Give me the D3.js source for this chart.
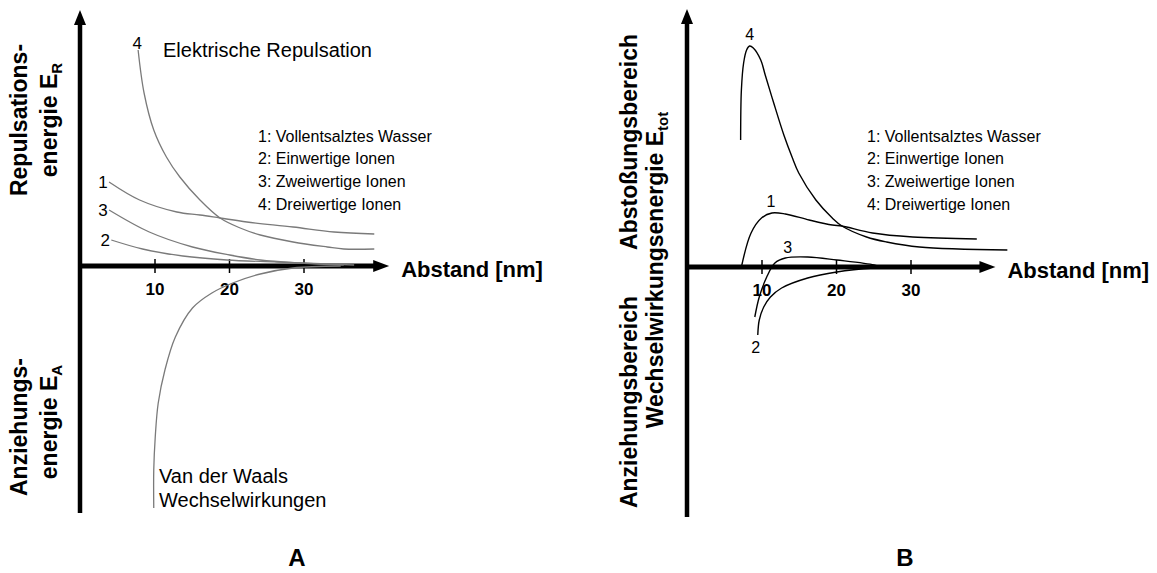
<!DOCTYPE html>
<html>
<head>
<meta charset="utf-8">
<script src="https://cdn.jsdelivr.net/npm/d3@7"></script>
<style>
  body { margin: 0; background: #fff; }
  text { font-family: "Liberation Sans", Arial, sans-serif; }
</style>
</head>
<body>
<script>
const xTicks = [10, 20, 30];
const legendItems = ["1: Vollentsalztes Wasser", "2: Einwertige Ionen", "3: Zweiwertige Ionen", "4: Dreiwertige Ionen"];

// Panel A - Repulsion
const repA1 = [[3.9, 8.4], [8.0, 6.6], [13.0, 5.4], [16.1, 5.1], [18.8, 4.8], [22.4, 4.4], [28.6, 3.9], [34.1, 3.4], [39.5, 3.2]];
const repA2 = [[4.2, 2.6], [8.4, 1.7], [13.8, 1.0], [19.7, 0.6], [26.5, 0.4], [33.2, 0.2], [36.8, 0.1]];
const repA3 = [[3.9, 5.6], [9.3, 3.4], [15.1, 1.9], [20.1, 1.1], [24.2, 0.6], [29.6, 0.3], [35.4, 0.1]];
const repA4 = [[7.8, 21.6], [8.6, 17.3], [9.9, 13.6], [11.6, 10.9], [13.4, 8.9], [16.1, 6.6], [18.8, 4.8], [21.5, 3.8], [24.2, 3.1], [28.6, 2.4], [33.2, 1.9], [35.4, 1.7], [39.5, 1.7]];
const vanDerWaals = [[9.9, -24.2], [9.9, -20.4], [10.1, -17.1], [10.5, -13.7], [11.4, -10.4], [12.8, -7.1], [15.1, -4.2], [17.7, -2.7], [20.5, -1.7], [24.2, -0.8], [28.6, -0.2], [35.0, 0]];

// Panel B - Gesamtenergie
const totB1 = [[7.3, 0], [8.6, 3.4], [10.0, 4.9], [11.4, 5.4], [13.2, 5.3], [16.4, 4.7], [19.5, 4.2], [20.8, 4.1], [24.9, 3.4], [30.3, 3.0], [38.9, 2.8]];
const totB2 = [[9.5, -6.8], [9.7, -5.3], [10.3, -4.0], [11.2, -3.0], [12.7, -2.1], [16.2, -1.1], [20.1, -0.5], [25.1, -0.1], [28.5, 0]];
const totB3 = [[9.1, -5.0], [9.7, -3.0], [10.7, -1.0], [11.8, 0.4], [13.2, 0.9], [16.2, 1.0], [20.1, 0.7], [25.1, 0.2], [25.8, 0]];
const totB4 = [[7.2, 12.7], [7.3, 17.7], [7.6, 20.4], [8.0, 21.7], [8.4, 22.1], [8.9, 21.9], [9.9, 20.7], [10.5, 19.2], [11.6, 16.5], [13.0, 13.2], [14.1, 11.0], [15.0, 9.4], [17.3, 6.7], [19.5, 4.9], [20.8, 4.1], [24.1, 3.0], [26.8, 2.5], [31.2, 2.0], [43.0, 1.7]];

const svg = d3.select("body").append("svg")
    .attr("width", 1157)
    .attr("height", 573);

const xA = d3.scaleLinear().domain([0, 40]).range([80, 378]);
const yA = d3.scaleLinear().domain([-25, 25]).range([516, 16]);
const xB = d3.scaleLinear().domain([0, 40]).range([687, 985]);
const yB = d3.scaleLinear().domain([-25, 26]).range([517, 7]);

function drawAxes(x, y, yTop, yBottom, xEnd) {
    let g = svg.append("g");
    let x0 = x(0), y0 = y(0);
    let tipY = y(yTop), tipX = x(xEnd);
    // y-Achse
    g.append("line")
        .attr("x1", x0).attr("x2", x0)
        .attr("y1", tipY + 12).attr("y2", y(yBottom))
        .attr("stroke", "#000").attr("stroke-width", 4.5);
    g.append("path")
        .attr("d", "M" + x0 + "," + tipY + "L" + (x0 - 6) + "," + (tipY + 15) + "L" + (x0 + 6) + "," + (tipY + 15) + "Z")
        .attr("fill", "#000");
    // x-Achse
    g.append("line")
        .attr("x1", x0 - 2).attr("x2", tipX - 12)
        .attr("y1", y0).attr("y2", y0)
        .attr("stroke", "#000").attr("stroke-width", 5);
    g.append("path")
        .attr("d", "M" + tipX + "," + y0 + "L" + (tipX - 16) + "," + (y0 - 6) + "L" + (tipX - 16) + "," + (y0 + 6) + "Z")
        .attr("fill", "#000");

    let ax = g.append("g")
        .attr("transform", "translate(0," + y0 + ")")
        .call(d3.axisBottom(x).tickValues(xTicks).tickSize(7).tickPadding(0));
    ax.select(".domain").remove();
    ax.selectAll(".tick line").attr("y1", -7).attr("stroke-width", 1.5);
    ax.selectAll(".tick text")
        .attr("y", 29).attr("dy", 0)
        .attr("font-family", "Liberation Sans, Arial, sans-serif")
        .attr("font-size", 17).attr("font-weight", "bold").attr("fill", "#000");

    g.append("text")
        .attr("x", tipX + 12).attr("y", y0 + 11)
        .attr("font-size", 22).attr("font-weight", "bold")
        .text("Abstand [nm]");
}

function rotLabel(x, yc, main, sub) {
    let t = svg.append("text")
        .attr("transform", "translate(" + x + "," + yc + ") rotate(-90)")
        .attr("text-anchor", "middle")
        .attr("font-size", 23).attr("font-weight", "bold");
    t.append("tspan").text(main);
    if (sub) {
        t.append("tspan").attr("font-size", 15).attr("dy", 5).text(sub);
    }
}

function drawCurve(data, x, y, color, width) {
    svg.append("path")
        .datum(data)
        .attr("fill", "none")
        .attr("stroke", color)
        .attr("stroke-width", width)
        .attr("d", d3.line()
            .x(function (d) { return x(d[0]); })
            .y(function (d) { return y(d[1]); })
            .curve(d3.curveCatmullRom.alpha(0.5)));
}

function label(txt, px, py, size) {
    svg.append("text")
        .attr("x", px).attr("y", py)
        .attr("text-anchor", "middle")
        .attr("font-size", size)
        .text(txt);
}

function legend(x0) {
    svg.append("g").selectAll("text")
        .data(legendItems)
        .enter().append("text")
        .attr("x", x0)
        .attr("y", function (d, i) { return 141.5 + i * 22.8; })
        .attr("font-size", 16)
        .text(function (d) { return d; });
}

// ---------- Panel A ----------
drawAxes(xA, yA, 25.6, -24.7, 41.5);
rotLabel(27, 120, "Repulsations-");
rotLabel(57, 120, "energie E", "R");
rotLabel(27, 427, "Anziehungs-");
rotLabel(57, 422, "energie E", "A");

let grey = "#7a7a7a";
[repA1, repA2, repA3, repA4, vanDerWaals].forEach(function (c) {
    drawCurve(c, xA, yA, grey, 1.3);
});
[[repA1, "1"], [repA2, "2"], [repA3, "3"]].forEach(function (c) {
    label(c[1], xA(c[0][0][0]) - 6, yA(c[0][0][1]) + 6, 17);
});
label("4", xA(repA4[0][0]) - 1, yA(repA4[0][1]) - 1, 17);

svg.append("text").attr("x", 163).attr("y", 57).attr("font-size", 20).text("Elektrische Repulsation");
legend(258);
svg.append("text").attr("x", 159).attr("y", 483).attr("font-size", 20).text("Van der Waals");
svg.append("text").attr("x", 159).attr("y", 507).attr("font-size", 20).text("Wechselwirkungen");
svg.append("text").attr("x", 297).attr("y", 566).attr("text-anchor", "middle")
    .attr("font-size", 24).attr("font-weight", "bold").text("A");

// ---------- Panel B ----------
drawAxes(xB, yB, 25.8, -25, 41.4);
rotLabel(637, 142, "Abstoßungsbereich");
rotLabel(637, 402, "Anziehungsbereich");
rotLabel(663, 270, "Wechselwirkungsenergie E", "tot");

[totB1, totB2, totB3, totB4].forEach(function (c) {
    drawCurve(c, xB, yB, "#000", 1.4);
});
let peak4 = totB4[4], peak1 = totB1[3], peak3 = totB3[5];
label("4", xB(peak4[0]), yB(peak4[1]) - 6, 16);
label("1", xB(peak1[0]) - 1, yB(peak1[1]) - 6, 16);
label("3", xB(peak3[0]) - 20, yB(peak3[1]) - 4, 16);
label("2", xB(totB2[0][0]) - 2, yB(totB2[0][1]) + 18, 16);

legend(867);
svg.append("text").attr("x", 905).attr("y", 566).attr("text-anchor", "middle")
    .attr("font-size", 24).attr("font-weight", "bold").text("B");
</script>
</body>
</html>
